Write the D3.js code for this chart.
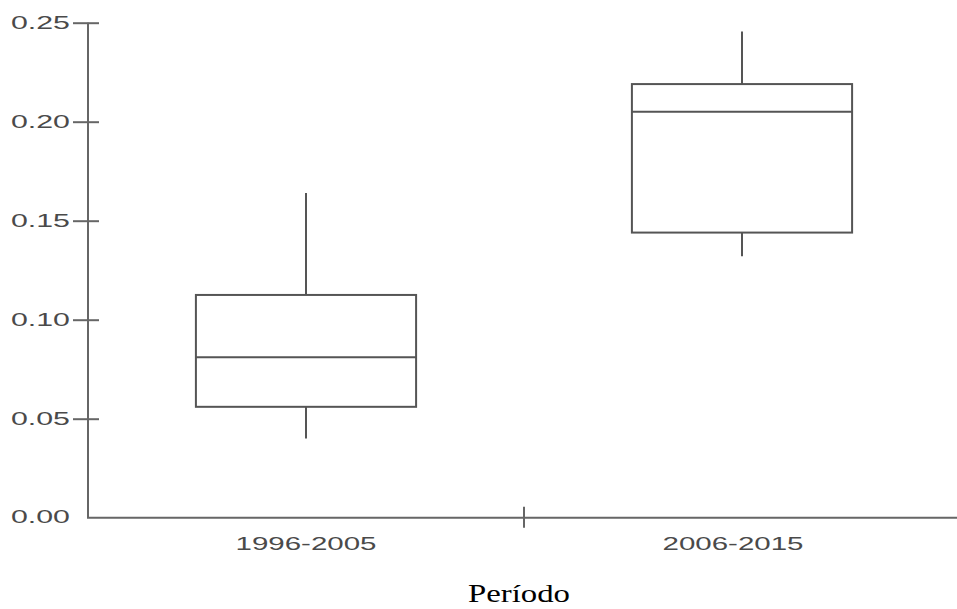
<!DOCTYPE html>
<html>
<head>
<meta charset="utf-8">
<script src="https://cdn.jsdelivr.net/npm/d3@7"></script>
<style>
  body { margin: 0; background: #fff; }
</style>
</head>
<body>
<div id="chart"></div>
<script>
// Box plot values
const categories = ['1996-2005', '2006-2015'];
const whiskerLow = [0.040, 0.132];
const q1 = [0.056, 0.144];
const median = [0.081, 0.205];
const q3 = [0.1125, 0.219];
const whiskerHigh = [0.164, 0.2455];
const yTicks = [0.05, 0.10, 0.15, 0.20, 0.25];

const width = 957;
const height = 609;
const axisColor = '#666';
const boxColor = '#555';
const labelColor = '#4a4a4a';

const svg = d3.select('#chart')
  .append('svg')
  .attr('width', width)
  .attr('height', height);

// scales
const x = d3.scaleBand()
  .domain(categories)
  .range([88, 960])
  .paddingInner(0)
  .paddingOuter(0);

const y = d3.scaleLinear()
  .domain([0, 0.25])
  .range([517.7, 22.7]);

const boxW = x.bandwidth() * 0.505;

// y axis
const yAxis = svg.append('g')
  .attr('transform', `translate(${x.range()[0]},0)`)
  .call(d3.axisLeft(y).tickValues(yTicks).tickSize(15).tickPadding(3).tickFormat(d3.format('.2f')));
yAxis.select('.domain').remove();
yAxis.selectAll('.tick line')
  .attr('x1', 11)
  .attr('x2', -15)
  .attr('stroke', axisColor)
  .attr('stroke-width', 2);
yAxis.selectAll('.tick text')
  .attr('fill', labelColor)
  .attr('font-family', 'Liberation Sans, Arial, sans-serif')
  .attr('font-size', 18)
  .attr('textLength', 59)
  .attr('lengthAdjust', 'spacingAndGlyphs');
// 0.00 label (no tick mark)
yAxis.append('text')
  .attr('x', -18)
  .attr('y', y(0))
  .attr('dy', '0.32em')
  .attr('text-anchor', 'end')
  .attr('fill', labelColor)
  .attr('font-family', 'Liberation Sans, Arial, sans-serif')
  .attr('font-size', 18)
  .attr('textLength', 59)
  .attr('lengthAdjust', 'spacingAndGlyphs')
  .text(d3.format('.2f')(0));

// axis lines
svg.append('path')
  .attr('d', `M${x.range()[0]},${y(0.25)}V${y(0)}H${width}`)
  .attr('fill', 'none')
  .attr('stroke', axisColor)
  .attr('stroke-width', 2);

// x separator tick between categories
svg.append('line')
  .attr('x1', x(categories[1]))
  .attr('x2', x(categories[1]))
  .attr('y1', y(0) - 11)
  .attr('y2', y(0) + 10)
  .attr('stroke', axisColor)
  .attr('stroke-width', 2);

// x labels
svg.selectAll('.xlab')
  .data(categories)
  .enter()
  .append('text')
  .attr('class', 'xlab')
  .attr('x', (d, i) => x(d) + x.bandwidth() / 2 - (i ? 9 : 0))
  .attr('y', 550)
  .attr('text-anchor', 'middle')
  .attr('fill', labelColor)
  .attr('font-family', 'Liberation Sans, Arial, sans-serif')
  .attr('font-size', 18)
  .attr('textLength', 141)
  .attr('lengthAdjust', 'spacingAndGlyphs')
  .text((d) => d);

// axis title
svg.append('text')
  .attr('x', 519)
  .attr('y', 602)
  .attr('text-anchor', 'middle')
  .attr('fill', '#000')
  .attr('font-family', 'Liberation Serif, Times New Roman, serif')
  .attr('font-size', 25)
  .attr('textLength', 102)
  .attr('lengthAdjust', 'spacingAndGlyphs')
  .text('Período');

// boxes
const boxes = svg.selectAll('.box')
  .data(categories)
  .enter()
  .append('g')
  .attr('class', 'box')
  .attr('stroke', boxColor)
  .attr('stroke-width', 2)
  .attr('fill', 'none');

boxes.append('line')
  .attr('x1', (d) => x(d) + x.bandwidth() / 2)
  .attr('x2', (d) => x(d) + x.bandwidth() / 2)
  .attr('y1', (d, i) => y(whiskerHigh[i]))
  .attr('y2', (d, i) => y(q3[i]));

boxes.append('line')
  .attr('x1', (d) => x(d) + x.bandwidth() / 2)
  .attr('x2', (d) => x(d) + x.bandwidth() / 2)
  .attr('y1', (d, i) => y(q1[i]))
  .attr('y2', (d, i) => y(whiskerLow[i]));

boxes.append('rect')
  .attr('x', (d) => x(d) + (x.bandwidth() - boxW) / 2)
  .attr('y', (d, i) => y(q3[i]))
  .attr('width', boxW)
  .attr('height', (d, i) => y(q1[i]) - y(q3[i]));

boxes.append('line')
  .attr('x1', (d) => x(d) + (x.bandwidth() - boxW) / 2)
  .attr('x2', (d) => x(d) + (x.bandwidth() + boxW) / 2)
  .attr('y1', (d, i) => y(median[i]))
  .attr('y2', (d, i) => y(median[i]));
</script>
</body>
</html>
